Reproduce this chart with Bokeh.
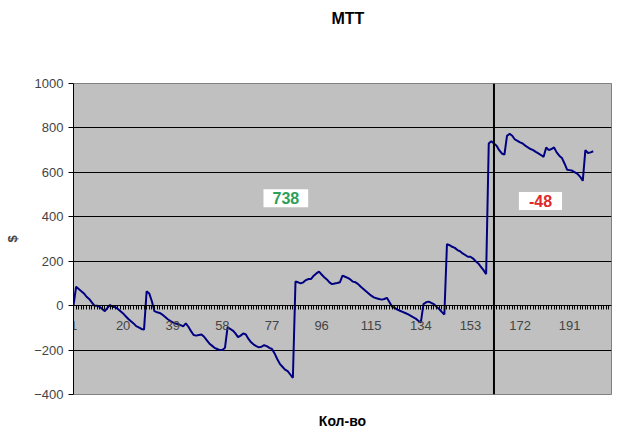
from bokeh.plotting import figure
from bokeh.models import Range1d, FixedTicker, Label, Span, Title
from bokeh.embed import file_html
from bokeh.resources import INLINE

# ---- data ----
balance = [
    0, 85, 75, 65, 55, 40, 30, 15, 0, 0,
    -5, -15, -25, -10, 3, -5, -7, -15, -25, -35,
    -48, -60, -70, -80, -92, -98, -105, -108, 65, 55,
    20, -25, -30, -33, -40, -50, -60, -68, -75, -80,
    -83, -88, -93, -80, -95, -115, -132, -135, -132, -130,
    -140, -155, -170, -180, -190, -195, -200, -200, -190, -97,
    -105, -112, -125, -142, -135, -125, -130, -150, -165, -175,
    -182, -188, -185, -178, -182, -190, -195, -215, -240, -262,
    -275, -288, -295, -310, -325, 109, 105, 100, 105, 115,
    120, 120, 135, 145, 153, 140, 128, 118, 105, 97,
    100, 102, 105, 135, 130, 125, 118, 108, 105, 97,
    85, 75, 65, 55, 45, 37, 33, 30, 27, 30,
    35, 15, -5, -10, -18, -23, -28, -33, -38, -45,
    -52, -58, -68, -75, 7, 15, 18, 12, 7, -5,
    -15, -28, -40, 277, 272, 265, 260, 250, 245, 235,
    228, 220, 220, 212, 200, 190, 175, 160, 142, 730,
    740, 730, 720, 700, 685, 680, 765, 773, 765, 748,
    742, 735, 730, 720, 712, 705, 700, 692, 685, 678,
    670, 712, 700, 705, 712, 690, 675, 665, 640, 612,
    610, 607, 600, 593, 580, 562, 700, 687, 690, 695,
]
count = list(range(1, len(balance) + 1))
x_tick_labels = [1, 20, 39, 58, 77, 96, 115, 134, 153, 172, 191]
y_ticks = [-400, -200, 0, 200, 400, 600, 800, 1000]
split_at = 162
result_texts = ["738", "-48"]
chart_title = "MTT"
x_title = "Кол-во"
y_title = "$"

FONT = "Liberation Sans"
X_MIN, X_MAX = 1, 207

p = figure(width=612, height=435, output_backend="svg", toolbar_location=None,
           x_range=Range1d(X_MIN, X_MAX), y_range=Range1d(-400, 1000),
           min_border_left=73, min_border_right=1, min_border_top=83,
           min_border_bottom=41)

p.background_fill_color = "#C0C0C0"
p.border_fill_color = "white"
p.outline_line_color = "#808080"
p.outline_line_width = 1

# grid
p.xgrid.visible = False
p.ygrid.ticker = FixedTicker(ticks=[t for t in y_ticks if -400 < t < 1000])
p.ygrid.grid_line_color = "black"
p.ygrid.grid_line_width = 1

# y axis
p.yaxis.ticker = FixedTicker(ticks=y_ticks)
p.yaxis.axis_line_color = "black"
p.yaxis.major_tick_in = 0
p.yaxis.major_tick_out = 5
p.yaxis.minor_tick_line_color = None
p.yaxis.major_label_text_font = FONT
p.yaxis.major_label_text_font_size = "13px"
p.yaxis.major_label_standoff = 5
p.yaxis.axis_label = y_title
p.yaxis.axis_label_text_font = FONT
p.yaxis.axis_label_text_font_size = "13px"
p.yaxis.axis_label_text_font_style = "bold"
p.yaxis.axis_label_standoff = 11

# x axis drawn along y = 0
p.xaxis.fixed_location = 0
p.xaxis.ticker = FixedTicker(ticks=x_tick_labels,
                             minor_ticks=list(range(X_MIN, X_MAX)))
p.xaxis.axis_line_color = "black"
p.xaxis.major_tick_in = 0
p.xaxis.major_tick_out = 4
p.xaxis.minor_tick_in = 0
p.xaxis.minor_tick_out = 4
p.xaxis.minor_tick_line_color = "black"
p.xaxis.major_label_text_font = FONT
p.xaxis.major_label_text_font_size = "13px"
p.xaxis.major_label_standoff = 11

p.line(count, balance, line_color="#000080", line_width=2)

p.add_layout(Span(location=split_at, dimension="height", line_color="black", line_width=2))

p.add_layout(Label(x=82.3, y=484, text=result_texts[0], text_align="center",
                   text_baseline="middle", text_font=FONT, text_font_size="16px",
                   text_font_style="bold", text_color="#2CA05A",
                   background_fill_color="white", padding=(9, 3)))
p.add_layout(Label(x=179.8, y=471, text=result_texts[1], text_align="center",
                   text_baseline="middle", text_font=FONT, text_font_size="16px",
                   text_font_style="bold", text_color="#DD2B2B",
                   background_fill_color="white", padding=(10, 3)))

# chart title (above, pushed to the top by a blank spacer next to the plot area)
p.add_layout(Title(text=" ", text_font_size="1px", standoff=54), "above")
p.add_layout(Title(text=chart_title, align="left", offset=258, standoff=0,
                   vertical_align="bottom", text_font=FONT, text_font_size="16px",
                   text_font_style="bold", text_color="black"), "above")

# x-axis title (below, pushed down by a blank spacer)
p.add_layout(Title(text=" ", text_font_size="1px", standoff=15), "below")
p.add_layout(Title(text=x_title, align="center", standoff=0, vertical_align="top",
                   text_font=FONT, text_font_size="14px", text_font_style="bold",
                   text_color="black"), "below")

open("out.html", "w").write(file_html(p, INLINE))
